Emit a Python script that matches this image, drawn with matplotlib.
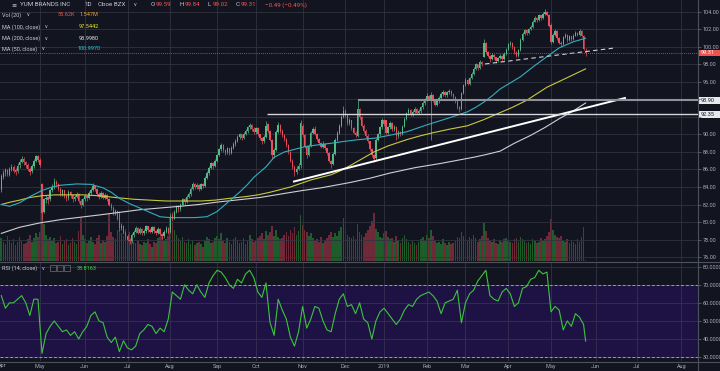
import numpy as np
import pandas as pd
import matplotlib
matplotlib.use("Agg")
import matplotlib.pyplot as plt
from matplotlib.patches import Rectangle, Circle
from matplotlib.lines import Line2D
from matplotlib.ticker import FormatStrFormatter, FuncFormatter

plt.rcParams['font.family'] = ['Roboto', 'DejaVu Sans']

# ---- trading calendar (NYSE holidays) ----
holidays = ['2018-05-28', '2018-07-04', '2018-09-03', '2018-11-22', '2018-12-05',
            '2018-12-25', '2019-01-01', '2019-01-21', '2019-02-18', '2019-04-19',
            '2019-05-27', '2019-07-04']
dates = pd.bdate_range('2018-04-02', '2019-08-30', freq='C', holidays=holidays)
first_bar = dates.get_loc(pd.Timestamp('2018-04-04'))

# ---- daily candles, 2018-04-04 .. 2019-05-24 ----
opens = [
    # Apr
    83.7, 85.1, 85.7, 85.9, 85.4, 86.1, 86.3, 85.9, 85.8, 86.5, 86.9, 87.2, 86.9, 86.5, 86.1, 85.8, 86.4, 87.0, 87.5,
    # May
    87.1, 84.3, 81.2, 82.6, 82.9, 82.6, 83.6, 84.0, 84.6, 84.3, 83.8, 83.2, 83.6, 83.0, 82.7, 83.4, 83.1, 82.6, 82.9, 83.2, 82.4, 81.9,
    # Jun
    82.6, 83.0, 82.7, 83.3, 83.7, 84.1, 83.8, 83.2, 82.9, 83.3, 82.8, 83.1, 82.6, 82.0, 81.6, 81.0, 81.3, 80.9, 79.3, 79.6, 78.8,
    # Jul
    78.4, 78.0, 77.8, 78.5, 78.9, 79.3, 78.8, 79.2, 78.7, 79.0, 79.5, 79.1, 78.9, 79.4, 79.0, 78.8, 79.2, 78.6, 78.4, 78.9, 79.3,
    # Aug
    78.9, 80.8, 80.4, 81.2, 81.8, 81.5, 82.0, 82.6, 82.3, 82.9, 83.2, 83.8, 84.3, 84.0, 84.2, 83.8, 84.3, 84.1, 85.0, 85.6, 86.2, 86.7, 86.4,
    # Sep
    87.0, 87.6, 88.3, 88.8, 88.2, 88.0, 88.4, 87.9, 88.5, 88.9, 89.3, 89.7, 90.0, 89.6, 90.1, 90.4, 90.8, 91.1, 90.6,
    # Oct
    90.3, 90.7, 90.0, 89.6, 89.2, 89.7, 91.2, 90.4, 89.4, 87.6, 88.2, 90.3, 91.1, 90.4, 89.9, 89.5, 88.8, 88.0, 87.0, 86.3, 85.7, 86.1, 86.5,
    # Nov
    91.0, 89.9, 88.6, 87.6, 88.7, 90.2, 90.6, 90.1, 89.5, 89.0, 88.6, 88.9, 88.4, 87.9, 87.0, 86.6, 87.8, 89.4, 90.2, 91.0, 92.0,
    # Dec
    92.7, 92.2, 91.3, 91.6, 90.7, 90.2, 89.8, 92.9, 92.0, 91.0, 90.4, 89.8, 89.2, 88.3, 87.6, 87.3, 89.4, 90.0, 90.8,
    # Jan
    91.7, 91.6, 90.2, 90.8, 91.3, 90.6, 90.9, 89.8, 90.3, 90.0, 90.9, 91.8, 92.4, 92.8, 92.3, 92.6, 92.9, 92.5, 92.7, 93.1, 93.6,
    # Feb
    94.0, 94.4, 94.1, 94.5, 93.9, 93.4, 93.8, 94.2, 94.6, 94.9, 94.5, 94.8, 95.0, 94.6, 94.3, 93.8, 93.1, 92.9, 94.7,
    # Mar
    95.6, 96.2, 95.8, 96.4, 96.9, 97.5, 98.0, 97.6, 98.3, 98.9, 100.5, 99.4, 99.0, 98.6, 99.1, 98.8, 98.4, 98.7, 99.0, 98.6, 99.2,
    # Apr
    99.7, 100.3, 100.5, 100.0, 99.4, 99.0, 99.6, 100.8, 101.5, 101.9, 101.6, 102.0, 102.3, 102.9, 103.3, 103.1, 103.6, 103.3, 103.8, 104.0, 103.7,
    # May
    102.5, 100.6, 101.4, 101.8, 101.0, 100.5, 100.3, 101.1, 101.4, 100.8, 101.2, 100.9, 101.3, 101.6, 101.4, 101.8, 101.3, 99.59,
]
highs = [
    85.5, 85.9, 86.2, 86.1, 86.3, 86.6, 86.5, 86.2, 86.7, 87.2, 87.5, 87.4, 87.0, 86.7, 86.3, 86.6, 87.2, 87.7, 87.6,
    87.3, 84.5, 82.8, 83.1, 83.0, 83.8, 84.3, 85.0, 84.8, 84.5, 84.0, 83.8, 83.7, 83.2, 83.6, 83.5, 83.2, 83.1, 83.4, 83.3, 82.6, 82.8,
    83.2, 83.1, 83.5, 83.9, 84.4, 84.2, 83.9, 83.4, 83.5, 83.4, 83.3, 83.2, 82.7, 82.2, 81.8, 81.5, 81.4, 81.1, 79.9, 79.7, 79.0,
    78.6, 78.2, 78.7, 79.1, 79.6, 79.4, 79.4, 79.3, 79.2, 79.7, 79.6, 79.3, 79.6, 79.5, 79.1, 79.4, 79.3, 78.8, 79.1, 79.5, 79.4,
    81.0, 81.1, 81.4, 82.0, 81.9, 82.2, 82.8, 82.7, 83.1, 83.4, 84.0, 84.6, 84.4, 84.4, 84.3, 84.5, 84.5, 85.2, 85.8, 86.4, 86.9, 86.8, 87.2,
    87.8, 88.5, 89.0, 88.9, 88.3, 88.6, 88.5, 88.7, 89.1, 89.5, 89.9, 90.2, 90.1, 90.3, 90.6, 91.0, 91.3, 91.2, 90.8,
    90.9, 90.8, 90.1, 89.7, 89.9, 91.5, 91.3, 90.5, 89.5, 88.5, 90.5, 91.4, 91.2, 90.6, 90.0, 89.6, 88.9, 88.1, 87.2, 86.5, 86.4, 86.7, 91.7,
    91.2, 90.0, 88.8, 88.9, 90.4, 90.9, 91.0, 90.2, 89.6, 89.1, 89.2, 89.0, 88.5, 88.0, 87.1, 88.0, 89.6, 90.4, 91.2, 92.2, 93.3,
    92.9, 92.3, 91.9, 91.7, 90.8, 90.4, 94.0, 93.0, 92.1, 91.2, 90.6, 90.0, 89.3, 88.5, 87.8, 89.6, 90.2, 91.0, 91.9,
    91.8, 91.7, 91.0, 91.5, 91.4, 91.1, 91.0, 90.5, 90.4, 91.1, 92.0, 92.6, 93.0, 92.9, 92.8, 93.1, 93.0, 92.9, 93.3, 93.8, 94.2,
    94.7, 94.5, 94.8, 94.6, 94.0, 94.0, 94.4, 94.8, 95.1, 95.0, 95.0, 95.2, 95.1, 94.7, 94.4, 93.9, 93.3, 94.9, 95.8,
    96.4, 96.3, 96.6, 97.1, 97.7, 98.2, 98.1, 98.5, 98.4, 100.9, 100.6, 99.5, 99.1, 99.3, 99.2, 98.9, 98.9, 99.2, 99.1, 99.4, 99.9,
    100.5, 100.7, 100.6, 100.1, 99.5, 99.8, 101.0, 101.7, 102.1, 102.0, 102.2, 102.5, 103.1, 103.5, 103.4, 103.8, 103.7, 104.0, 104.3, 104.1, 103.8,
    102.7, 101.6, 102.0, 101.9, 101.1, 100.7, 101.3, 101.6, 101.5, 101.4, 101.3, 101.5, 101.8, 101.7, 102.0, 101.9, 101.4, 99.84,
]
lows = [
    83.4, 84.9, 85.3, 85.2, 85.2, 85.8, 85.6, 85.4, 85.6, 86.2, 86.7, 86.5, 86.2, 85.8, 85.4, 85.6, 86.2, 86.8, 86.8,
    86.3, 80.2, 81.0, 82.2, 82.1, 82.4, 83.4, 83.8, 84.0, 83.5, 83.0, 83.0, 82.8, 82.4, 82.5, 82.8, 82.3, 82.4, 82.7, 82.2, 81.6, 81.8,
    82.4, 82.4, 82.6, 83.1, 83.5, 83.5, 83.0, 82.6, 82.7, 82.6, 82.6, 82.4, 81.8, 81.4, 80.8, 80.8, 80.2, 79.0, 79.1, 78.6, 78.1,
    77.8, 77.5, 77.6, 78.3, 78.7, 78.6, 78.6, 78.5, 78.5, 78.8, 78.9, 78.7, 78.8, 78.8, 78.5, 78.6, 78.4, 78.1, 78.2, 78.7, 78.6,
    78.7, 80.1, 80.3, 81.0, 81.2, 81.3, 81.9, 82.0, 82.2, 82.7, 83.0, 83.7, 83.8, 83.8, 83.5, 83.7, 83.9, 84.0, 84.9, 85.4, 86.0, 86.1, 86.3,
    86.9, 87.5, 88.1, 88.0, 87.7, 87.8, 87.7, 87.8, 88.3, 88.7, 89.1, 89.5, 89.4, 89.5, 89.9, 90.2, 90.6, 90.4, 90.1,
    90.1, 89.8, 89.4, 88.9, 89.0, 89.6, 90.2, 89.2, 87.2, 87.3, 88.1, 90.2, 90.2, 89.7, 89.3, 88.6, 87.8, 86.8, 86.1, 85.3, 85.5, 85.9, 86.2,
    89.7, 88.4, 87.3, 87.5, 88.6, 90.0, 89.9, 89.3, 88.8, 88.4, 88.5, 88.2, 87.7, 86.8, 86.2, 86.5, 87.7, 89.2, 90.0, 90.9, 91.9,
    92.0, 91.1, 91.1, 90.5, 90.0, 89.7, 89.7, 91.8, 90.8, 90.2, 89.6, 89.0, 88.1, 87.4, 86.9, 87.1, 89.2, 89.8, 90.6,
    91.0, 90.0, 90.0, 90.6, 90.4, 90.4, 89.4, 89.6, 89.8, 89.9, 90.8, 91.6, 92.2, 92.1, 92.1, 92.4, 92.3, 92.3, 92.5, 92.9, 93.4,
    93.8, 93.9, 89.4, 93.7, 93.2, 93.2, 93.6, 94.0, 94.4, 94.3, 94.3, 94.6, 94.4, 94.1, 93.6, 92.9, 92.6, 92.8, 94.6,
    95.5, 95.6, 95.7, 96.3, 96.8, 97.4, 97.4, 97.5, 97.8, 98.8, 99.2, 98.8, 98.3, 98.5, 98.6, 98.2, 98.3, 98.6, 98.4, 98.5, 99.1,
    99.6, 100.1, 99.8, 99.2, 98.8, 98.9, 99.5, 100.7, 101.4, 101.4, 101.5, 101.9, 102.2, 102.8, 102.9, 103.0, 103.1, 103.2, 103.6, 103.5, 102.3,
    100.3, 100.5, 101.3, 100.8, 100.3, 100.0, 100.2, 101.0, 100.6, 100.7, 100.7, 100.8, 101.2, 101.2, 101.3, 101.1, 99.7, 99.02,
]
closes = [
    85.2, 85.6, 85.9, 85.5, 86.0, 86.3, 85.8, 85.7, 86.4, 86.9, 87.2, 86.8, 86.5, 86.0, 85.7, 86.4, 87.0, 87.5, 87.1,
    86.5, 81.0, 82.6, 82.8, 82.5, 83.6, 84.0, 84.6, 84.3, 83.8, 83.2, 83.6, 83.0, 82.7, 83.4, 83.1, 82.6, 82.9, 83.2, 82.4, 81.9, 82.6,
    83.0, 82.7, 83.3, 83.7, 84.1, 83.8, 83.2, 82.9, 83.3, 82.8, 83.1, 82.6, 82.0, 81.6, 81.0, 81.3, 80.4, 79.3, 79.6, 78.8, 78.4,
    78.0, 77.8, 78.5, 78.9, 79.3, 78.8, 79.2, 78.7, 79.0, 79.5, 79.1, 78.9, 79.4, 79.0, 78.8, 79.2, 78.6, 78.4, 78.9, 79.3, 78.8,
    80.7, 80.4, 81.2, 81.8, 81.5, 82.0, 82.6, 82.3, 82.9, 83.2, 83.8, 84.3, 84.0, 84.2, 83.8, 84.3, 84.1, 85.0, 85.6, 86.2, 86.7, 86.4, 87.0,
    87.6, 88.3, 88.8, 88.2, 88.0, 88.4, 87.9, 88.5, 88.9, 89.3, 89.7, 90.0, 89.6, 90.1, 90.4, 90.8, 91.1, 90.6, 90.3,
    90.7, 90.0, 89.6, 89.2, 89.7, 91.0, 90.4, 89.4, 87.6, 88.2, 90.3, 91.1, 90.4, 89.9, 89.5, 88.8, 88.0, 87.0, 86.3, 85.7, 86.1, 86.4, 91.3,
    89.9, 88.6, 87.6, 88.7, 90.2, 90.6, 90.1, 89.5, 89.0, 88.6, 88.9, 88.4, 87.9, 87.0, 86.6, 87.8, 89.4, 90.2, 91.0, 92.0, 92.7,
    92.2, 91.3, 91.6, 90.7, 90.2, 89.9, 92.9, 92.0, 91.0, 90.4, 89.8, 89.2, 88.3, 87.6, 87.2, 89.4, 90.0, 90.8, 91.7,
    91.2, 90.2, 90.8, 91.3, 90.6, 90.9, 89.8, 90.3, 90.0, 90.9, 91.8, 92.4, 92.8, 92.3, 92.6, 92.9, 92.5, 92.7, 93.1, 93.6, 94.0,
    94.4, 94.1, 94.5, 93.9, 93.4, 93.8, 94.2, 94.6, 94.9, 94.5, 94.8, 95.0, 94.6, 94.3, 93.8, 93.1, 92.9, 94.7, 95.6,
    96.2, 95.8, 96.4, 96.9, 97.5, 98.0, 97.6, 98.3, 98.0, 100.5, 99.4, 99.0, 98.6, 99.1, 98.8, 98.4, 98.7, 99.0, 98.6, 99.2, 99.7,
    100.3, 100.5, 100.0, 99.4, 99.0, 99.6, 100.8, 101.5, 101.9, 101.6, 102.0, 102.3, 102.9, 103.3, 103.1, 103.6, 103.3, 103.8, 104.0, 103.7, 102.4,
    100.6, 101.4, 101.8, 101.0, 100.5, 100.3, 101.1, 101.4, 100.8, 101.2, 100.9, 101.3, 101.6, 101.4, 101.8, 101.3, 99.8, 99.31,
]
# volume in millions
volumes = [
    1.9, 1.6, 1.4, 2.1, 1.7, 1.5, 1.8, 1.3, 1.6, 2.0, 1.7, 1.4, 1.5, 1.8, 2.2, 1.6, 1.9, 2.3, 2.0,
    2.4, 4.6, 3.1, 2.2, 1.8, 2.0, 1.7, 1.9, 1.5, 1.6, 2.1, 1.4, 1.7, 1.8, 1.3, 1.5, 1.9, 1.6, 1.4, 2.5, 3.6, 2.2,
    1.8, 1.5, 1.7, 2.0, 1.6, 1.4, 1.9, 2.2, 1.5, 1.7, 1.6, 2.1, 3.9, 2.4, 2.0, 1.8, 2.6, 4.2, 2.3, 2.1, 2.7,
    1.9, 2.4, 1.8, 1.6, 1.5, 1.7, 1.4, 1.3, 1.6, 1.5, 1.8, 1.4, 1.2, 1.6, 1.5, 1.9, 2.0, 2.2, 1.7, 1.8, 2.1,
    3.7, 3.2, 2.6, 2.2, 1.9, 1.7, 2.0, 1.6, 1.5, 1.8, 1.4, 1.7, 1.3, 1.5, 1.6, 1.4, 1.2, 1.7, 2.0, 1.8, 1.5, 1.6, 1.9,
    2.1, 1.8, 2.3, 1.7, 1.5, 1.9, 1.6, 1.4, 1.8, 2.0, 1.7, 1.5, 1.6, 1.9, 1.4, 1.7, 2.2, 1.8, 1.6,
    1.7, 1.9, 2.1, 2.3, 1.8, 2.5, 2.2, 2.4, 2.9, 2.1, 2.6, 2.0, 1.8, 1.9, 2.2, 2.4, 2.1, 2.6, 2.3, 2.8, 2.2, 2.5, 3.8,
    3.0, 2.6, 2.4, 2.1, 2.3, 1.9, 1.7, 1.8, 1.6, 2.0, 1.5, 1.7, 1.9, 2.2, 2.4, 2.0, 2.3, 2.1, 2.5, 2.8, 3.6,
    2.6, 2.2, 2.0, 1.9, 2.1, 1.8, 3.1, 2.4, 2.2, 2.0, 2.3, 2.6, 2.9, 3.3, 4.0, 2.7, 2.4, 2.0, 1.9,
    2.3, 2.5, 2.0, 1.8, 1.9, 1.6, 2.1, 1.7, 1.5, 1.9, 2.2, 1.8, 1.6, 1.4, 1.7, 1.5, 1.3, 1.6, 1.8, 2.0, 1.7,
    2.2, 1.9, 2.6, 2.1, 1.7, 1.5, 1.6, 1.4, 1.8, 1.5, 1.3, 1.6, 1.4, 1.5, 1.7, 2.0, 1.9, 2.4, 2.1,
    1.9, 1.7, 2.0, 1.8, 2.2, 1.9, 1.6, 1.8, 2.1, 3.2, 2.5, 1.9, 1.7, 1.6, 1.8, 1.5, 1.4, 1.7, 1.6, 1.8, 1.9,
    1.7, 1.6, 1.5, 1.8, 1.9, 1.6, 2.0, 1.8, 1.7, 1.5, 1.6, 1.4, 1.8, 1.7, 1.5, 1.6, 1.9, 1.7, 1.8, 2.1, 2.4,
    3.5, 2.6, 2.2, 2.0, 1.9, 2.1, 1.7, 1.6, 1.8, 1.5, 1.7, 1.6, 1.4, 1.8, 1.6, 2.0, 2.8, 0.06,
]

# RSI(14) read every second bar, plus the last bar
rsi_bar = list(range(0, 288, 2)) + [287]
rsi_vals = [
    64, 57, 60, 60, 62, 64, 60, 53, 62, 62,
    32, 43, 47, 50, 47, 44, 45, 42, 44, 40, 44,
    47, 53, 55, 50, 49, 41, 38, 41, 33, 39,
    35, 34, 36, 43, 45, 48, 47, 43, 46, 44, 51,
    66, 64, 62, 70, 67, 65, 70, 66, 63, 71, 75,
    78, 77, 74, 70, 68, 73, 71, 76, 78, 74,
    66, 63, 71, 49, 42, 62, 56, 51, 41, 36, 44,
    58, 46, 51, 58, 57, 50, 45, 44, 54, 62, 65,
    58, 59, 54, 60, 51, 49, 40, 50, 55,
    57, 54, 51, 48, 51, 56, 59, 58, 62, 64, 65,
    66, 64, 61, 54, 60, 61, 62, 67, 49,
    60, 65, 67, 72, 75, 78, 64, 62, 61, 66, 68,
    65, 58, 60, 68, 69, 73, 74, 78, 76, 77,
    55, 58, 56, 45, 50, 47, 54, 52, 48,
    38.8163,
]

# moving averages (read at sample bars)
ma50_bar = [0, 4, 9, 14, 20, 25, 29, 37, 44, 50, 54, 58, 63, 68, 73, 78, 83, 88, 95, 101, 106, 111, 117,
            121, 124, 127, 130, 134, 139, 144, 149, 155, 162, 168, 175, 184, 199, 209, 220, 229, 233, 237,
            241, 245, 250, 255, 261, 268, 274, 281, 287]
ma50_vals = [82.0, 81.8, 82.2, 82.9, 83.6, 84.0, 84.2, 84.35, 84.3, 83.9, 83.4, 82.7, 82.1, 81.6, 81.1, 80.6,
             80.5, 80.5, 80.5, 80.6, 81.2, 82.2, 83.4, 84.3, 85.1, 85.7, 86.3, 87.4, 88.0, 88.3, 88.6, 88.8,
             89.0, 89.2, 89.4, 89.6, 90.3, 91.1, 91.9, 92.6, 93.1, 93.7, 94.4, 95.2, 95.9, 96.6, 97.7, 98.9,
             99.9, 100.6, 101.0]
ma100_bar = [0, 4, 9, 14, 20, 26, 32, 40, 48, 56, 65, 73, 81, 90, 98, 105, 112, 120, 126, 132, 137, 142,
             147, 152, 157, 162, 166, 171, 177, 183, 190, 199, 205, 212, 220, 229, 237, 245, 251, 258, 268,
             278, 287]
ma100_vals = [82.0, 82.25, 82.5, 82.8, 83.0, 83.1, 83.1, 83.1, 83.0, 82.8, 82.6, 82.5, 82.4, 82.4, 82.4,
              82.5, 82.7, 82.9, 83.1, 83.4, 83.7, 84.0, 84.4, 84.8, 85.1, 85.4, 85.8, 86.4, 87.2, 88.0,
              88.7, 89.4, 89.8, 90.2, 90.6, 91.0, 91.7, 92.5, 93.1, 93.9, 95.4, 96.5, 97.5]
ma200_bar = [0, 9, 19, 30, 48, 58, 68, 78, 88, 97, 107, 117, 127, 140, 148, 157, 164, 171, 181, 191, 203,
             216, 224, 232, 238, 245, 252, 260, 267, 274, 281, 287]
ma200_vals = [78.7, 79.4, 79.9, 80.3, 80.8, 81.1, 81.4, 81.6, 81.8, 82.0, 82.3, 82.55, 82.8, 83.3, 83.6,
              83.9, 84.2, 84.5, 85.0, 85.6, 86.2, 86.7, 87.05, 87.4, 87.7, 88.1, 89.0, 89.9, 90.8, 91.8,
              92.7, 93.6]

# drawn objects
trend_bar, trend_px = [143.3, 306.8], [84.6, 94.2]
dash_bar, dash_px = [237.6, 301.4], [98.06, 99.89]
levels = [93.90, 92.35]
level_start = [175.2, 130.5]
last_close = 99.31

# ---- colours ----
BG = '#121520'
GRID = '#30343f'
TXT = '#c9ccd4'
AX_TXT = '#a9acb5'
UP, DN = '#53b987', '#eb4d5c'
VUP, VDN = '#1f5c2c', '#6e2a38'

W, H = 720, 371
def fx(x):
    return x / W
def fy(y):
    return 1 - y / H

o = np.array(opens); h = np.array(highs); l = np.array(lows); c = np.array(closes)
x = np.arange(len(c)) + first_bar
up = c >= o
cols = np.where(up, UP, DN)

fig = plt.figure(figsize=(7.2, 3.71), dpi=100, facecolor=BG)
rect_main = [0, fy(261), fx(698), 261 / H]
ax_vol = fig.add_axes(rect_main)
ax = fig.add_axes(rect_main, sharex=ax_vol)
ax_rsi = fig.add_axes([0, fy(361), fx(698), 99 / H], sharex=ax_vol)
ax_vol.set_zorder(1)
ax.set_zorder(2)
ax.patch.set_visible(False)

xmin, xmax = first_bar - 0.64, first_bar + 342.2

# volume overlay
ax_vol.set_facecolor(BG)
ax_vol.bar(x, volumes, width=0.8, color=np.where(up, VUP, VDN), linewidth=0)
ax_vol.set_ylim(0, 21.75)
ax_vol.set_yticks([])
ax_vol.tick_params(axis='x', labelbottom=False, length=0)
for s in ax_vol.spines.values():
    s.set_visible(False)

# candles
ax.vlines(x, l, h, colors=cols, linewidth=0.5, zorder=3)
ax.bar(x, np.maximum(np.abs(c - o), 0.04), bottom=np.minimum(o, c), width=0.7,
       color=cols, linewidth=0, zorder=4)

# moving averages
ax.plot(np.array(ma200_bar) + first_bar, ma200_vals, color='#cfcfd4', lw=0.8, zorder=5)
ax.plot(np.array(ma100_bar) + first_bar, ma100_vals, color='#c9c93a', lw=0.8, zorder=5)
ax.plot(np.array(ma50_bar) + first_bar, ma50_vals, color='#33aebf', lw=0.8, zorder=5)

# drawings
ax.plot(np.array(trend_bar) + first_bar, trend_px, color='white', lw=1.4, zorder=6,
        solid_capstyle='butt')
ax.plot(np.array(dash_bar) + first_bar, dash_px, color='#cfd2da', lw=0.8, ls=(0, (4, 3)), zorder=6)
ax.hlines(levels[0], level_start[0] + first_bar, xmax, color='#8e9199', lw=1.5, zorder=6)
ax.hlines(levels[1], level_start[1] + first_bar, xmax, color='#d4d5da', lw=1.0, zorder=6)
ax.axhline(last_close, color='#ef5350', lw=0.6, ls=(0, (1, 1.5)), zorder=6)

ax.set_xlim(xmin, xmax)
ax.set_ylim(75.543, 105.371)
ax.set_yticks(np.arange(76, 105, 2))
ax.yaxis.set_major_formatter(FuncFormatter(lambda v, p: '' if round(v) in (92, 94) else f'{v:.2f}'))
ax.yaxis.tick_right()
ax.tick_params(axis='y', labelsize=4, labelcolor=AX_TXT, color='#6b6f7a', length=2, width=0.5, pad=1.5)
ax.set_axisbelow(True)
ax.grid(True, color=GRID, lw=0.6)
for s in ax.spines.values():
    s.set_visible(False)

# month ticks
month_pos = [i for i in range(len(dates)) if i == 0 or dates[i].month != dates[i - 1].month]
month_lab = ['2019' if dates[i].month == 1 else dates[i].strftime('%b') for i in month_pos]
ax.set_xticks(month_pos)
ax.tick_params(axis='x', labelbottom=False, length=0)

# RSI pane
ax_rsi.set_facecolor(BG)
ax_rsi.axhspan(30, 70, color='#1e1244', lw=0, zorder=0.2)
ax_rsi.plot(np.array(rsi_bar) + first_bar, rsi_vals, color='#3cc43c', lw=0.8, zorder=3)
for lev in (70, 30):
    ax_rsi.axhline(lev, color='#9a9da6', lw=0.7, ls=(0, (3, 2)), zorder=2)
ax_rsi.set_ylim(27.8, 82.6)
ax_rsi.set_yticks([30, 40, 50, 60, 70, 80])
ax_rsi.yaxis.set_major_formatter(FormatStrFormatter('%.4f'))
ax_rsi.yaxis.tick_right()
ax_rsi.tick_params(axis='y', labelsize=4, labelcolor=AX_TXT, color='#6b6f7a', length=2, width=0.5, pad=1.5)
ax_rsi.set_axisbelow(True)
ax_rsi.grid(True, color='#35304f', lw=0.6)
ax_rsi.set_xticks(month_pos)
ax_rsi.set_xticklabels(month_lab)
ax_rsi.tick_params(axis='x', labelsize=4, labelcolor=AX_TXT, length=0, pad=2.5, labelbottom=True)
for s in ax_rsi.spines.values():
    s.set_visible(False)
ax_rsi.set_xlim(xmin, xmax)
fig.text(fx(2), fy(366), 'Apr', fontsize=4, color=AX_TXT, ha='center', va='center')

# pane borders
fig.add_artist(Line2D([fx(698), fx(698)], [0, 1], color='#4d515c', lw=0.8))
fig.add_artist(Line2D([0, 1], [fy(261.5), fy(261.5)], color='#4d515c', lw=0.8))
fig.add_artist(Line2D([0, 1], [fy(361.5), fy(361.5)], color='#4d515c', lw=0.8))

# price tags on the axis
def tag(y, text, fc, tc):
    fig.add_artist(Rectangle((fx(699), fy(y + 3.2)), fx(21), 6.4 / H, facecolor=fc,
                             edgecolor='none', transform=fig.transFigure))
    fig.text(fx(701), fy(y), text, fontsize=4, color=tc, ha='left', va='center')

tag(53, '99.31', '#ef5350', 'white')
tag(100.5, '93.90', '#e8e9ec', '#131722')
tag(114.5, '92.35', '#e8e9ec', '#131722')

# alert icon
fig.add_artist(Circle((fx(693), fy(4.5)), 3.5 / W, facecolor='#ff9800', edgecolor='none',
                      transform=fig.transFigure))
fig.text(fx(693), fy(4.5), '!', fontsize=4, color='#131722', ha='center', va='center', weight='bold')

# legend texts
def icons(x0, y):
    for k in range(3):
        fig.add_artist(Rectangle((fx(x0 + k * 7), fy(y + 2.8)), 5.5 / W, 5.5 / H, fill=False,
                                 edgecolor='#6d707b', lw=0.5, transform=fig.transFigure))

def t(xp, yp, s, col=TXT, size=4.0):
    fig.text(fx(xp), fy(yp), s, fontsize=size, color=col, ha='left', va='center')

t(11, 5, '≡', TXT, 4.5)
t(20, 5, 'YUM BRANDS INC', TXT, 4.5)
t(85, 5, '1D', TXT, 4.5)
t(98, 5, 'Cboe BZX', TXT, 4.5)
t(134, 5, 'v', TXT, 4.0)
for xl, lab, val in [(151, 'O', '99.59'), (180, 'H', '99.84'), (208, 'L', '99.02'), (236, 'C', '99.31')]:
    t(xl, 5, lab, TXT, 4.5)
    t(xl + 5, 5, val, '#ef5350', 4.5)
t(265, 5, '−0.49 (−0.49%)', '#ef5350', 4.5)

t(2, 15, 'Vol (20)')
t(27, 15, 'v')
icons(33, 15)
t(58, 15, '55.62K', '#ef5350')
t(80, 15, '1.547M', '#f0a030')

t(2, 27, 'MA (100, close)')
t(45, 27, 'v')
icons(53, 27)
t(79, 27, '97.5442', '#e8e83a')

t(2, 38, 'MA (200, close)')
t(45, 38, 'v')
icons(53, 38)
t(79, 38, '93.9980', '#e4e4e8')

t(2, 49, 'MA (50, close)')
t(42, 49, 'v')
icons(50, 49)
t(77, 49, '100.9970', '#2ec4d6')

t(2, 268, 'RSI (14, close)')
t(42, 268, 'v')
icons(50, 268)
t(77, 268, '38.8163', '#3ddc3d')

fig.savefig('out.png', dpi=100, facecolor=BG)
